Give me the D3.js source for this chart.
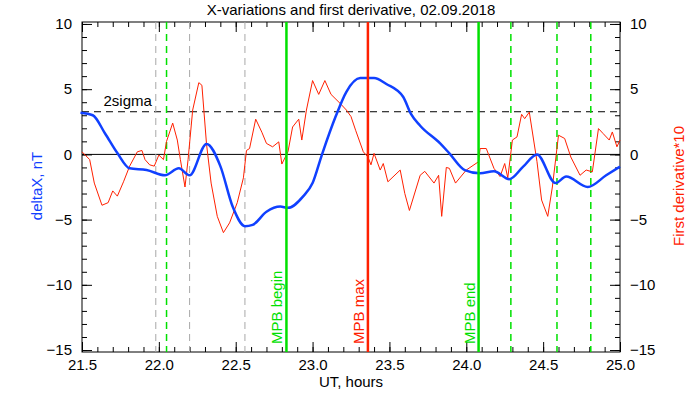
<!DOCTYPE html>
<html><head><meta charset="utf-8">
<script src="https://cdn.jsdelivr.net/npm/d3@7"></script>
<style>body{margin:0;background:#fff}text{font-family:"Liberation Sans",Arial,sans-serif}</style>
</head><body>
<script>
// blue: deltaX, nT
var blueT = [21.49,21.57,21.65,21.73,21.81,21.92,22.04,22.13,22.2,22.31,22.4,22.48,22.56,22.61,22.7,22.79,22.84,22.94,23.0,23.06,23.15,23.22,23.31,23.4,23.48,23.59,23.64,23.7,23.83,23.89,23.99,24.09,24.18,24.28,24.37,24.46,24.58,24.65,24.79,24.91,25.0];
var blueV = [3.2,3.0,1.6,0.1,-1.07,-1.2,-1.6,-1.07,-1.6,0.8,-0.9,-4.0,-5.5,-5.4,-4.4,-4.0,-4.1,-3.2,-2.2,-0.05,2.9,4.8,5.85,5.86,5.4,4.4,3.1,2.2,0.84,0.08,-1.2,-1.45,-1.3,-1.9,-0.94,0,-2.2,-1.7,-2.5,-1.6,-0.94];
// red: first derivative * 10
var redT = [21.5,21.55,21.58,21.63,21.67,21.7,21.73,21.77,21.81,21.86,21.89,21.91,21.94,21.97,22.0,22.03,22.05,22.09,22.12,22.14,22.17,22.19,22.22,22.26,22.28,22.31,22.34,22.38,22.42,22.46,22.51,22.55,22.57,22.59,22.63,22.67,22.7,22.74,22.78,22.8,22.84,22.87,22.91,22.93,22.96,23.0,23.04,23.08,23.12,23.18,23.22,23.25,23.28,23.33,23.36,23.38,23.4,23.44,23.46,23.49,23.57,23.6,23.63,23.7,23.73,23.79,23.82,23.84,23.87,23.89,23.93,24.0,24.08,24.09,24.13,24.18,24.22,24.25,24.27,24.3,24.33,24.36,24.38,24.41,24.46,24.49,24.53,24.56,24.6,24.64,24.68,24.74,24.78,24.82,24.86,24.89,24.93,24.95,24.98,25.0];
var redV = [0.2,-0.4,-2.2,-3.9,-3.7,-2.8,-3.2,-2.1,-0.9,0.2,0.3,-0.4,-0.8,-0.9,-0.05,-0.4,1.0,2.4,1.1,-0.4,-2.5,-0.4,3.4,5.5,5.3,0.8,-2.2,-4.75,-6.0,-5.25,-3.7,-1.8,0.3,0.45,2.7,1.7,0.84,0.58,0.96,-0.74,0.2,2.1,2.7,1.1,3.4,5.66,4.6,5.66,4.6,3.9,3.4,2.9,1.85,0.2,-0.2,-0.8,0.08,-1.2,-0.7,-2.1,-1.2,-3.0,-4.3,-1.6,-1.3,-2.2,-1.6,-4.75,-1.0,-1.07,-2.2,-1.2,-0.56,0.45,0.45,-1.07,-1.7,-0.7,-1.8,1.1,1.34,3.07,2.74,3.24,-0.56,-3.5,-4.75,-2.5,1.47,1.22,-0.2,-1.6,-1.2,-1.34,1.98,1.6,1.1,1.72,0.58,1.1];
var grayDashed = [21.98,22.2,22.56];
var greenDashed = [22.05,24.29,24.59,24.81];
var events = [{t:22.83,label:"MPB begin",c:"#00e000"},{t:23.36,label:"MPB max",c:"#ff2000"},{t:24.08,label:"MPB end",c:"#00e000"}];
var sigma2 = 3.27;
var yTicks = [-15,-10,-5,0,5,10];
var xTicks = [21.5,22.0,22.5,23.0,23.5,24.0,24.5,25.0];

var W=700,H=400,L=82,R=620,T=22,B=352;
var svg = d3.select("body").append("svg").attr("width",W).attr("height",H);
var x = d3.scaleLinear().domain([21.5,25]).range([L,R]);
var y = d3.scaleLinear().domain([-15.15,10.15]).range([B,T]);

svg.append("rect").attr("x",L).attr("y",T).attr("width",R-L).attr("height",B-T).attr("fill","none").attr("stroke","#000");

// axes
svg.append("g").attr("transform","translate("+L+",0)").call(d3.axisLeft(y).tickValues(d3.range(-15,11,1)).tickSize(-5).tickFormat(""));
svg.append("g").attr("transform","translate("+L+",0)").call(d3.axisLeft(y).tickValues(yTicks).tickSize(-10).tickPadding(10).tickFormat(d3.format("d")));
svg.append("g").attr("transform","translate("+R+",0)").call(d3.axisRight(y).tickValues(d3.range(-15,11,1)).tickSize(-5).tickFormat(""));
svg.append("g").attr("transform","translate("+R+",0)").call(d3.axisRight(y).tickValues(yTicks).tickSize(-10).tickPadding(10).tickFormat(d3.format("d")));
svg.append("g").attr("transform","translate(0,"+B+")").call(d3.axisBottom(x).tickValues(d3.range(21.5,25.01,0.1)).tickSize(-5).tickFormat(""));
svg.append("g").attr("transform","translate(0,"+B+")").call(d3.axisBottom(x).tickValues(xTicks).tickSize(-10).tickPadding(7).tickFormat(d3.format(".1f")));
svg.append("g").attr("transform","translate(0,"+T+")").call(d3.axisTop(x).tickValues(d3.range(21.5,25.01,0.1)).tickSize(-5).tickFormat(""));
svg.append("g").attr("transform","translate(0,"+T+")").call(d3.axisTop(x).tickValues(xTicks).tickSize(-10).tickFormat(""));
svg.selectAll(".domain").remove();
svg.selectAll(".tick line").attr("stroke","#000");
svg.selectAll(".tick text").attr("font-size",15).attr("fill","#000");

// reference lines
svg.append("line").attr("x1",L).attr("x2",R).attr("y1",y(0)).attr("y2",y(0)).attr("stroke","#000");
svg.append("line").attr("x1",L).attr("x2",R).attr("y1",y(sigma2)).attr("y2",y(sigma2)).attr("stroke","#000").attr("stroke-dasharray","7,5");
svg.append("text").attr("x",x(21.64)).attr("y",y(sigma2)-6).attr("font-size",15).text("2sigma");

svg.selectAll(".gd").data(grayDashed).enter().append("line")
  .attr("x1",d=>x(d)).attr("x2",d=>x(d)).attr("y1",T).attr("y2",B)
  .attr("stroke","#a8a8a8").attr("stroke-dasharray","7,5");
svg.selectAll(".grd").data(greenDashed).enter().append("line")
  .attr("x1",d=>x(d)).attr("x2",d=>x(d)).attr("y1",T).attr("y2",B)
  .attr("stroke","#00e000").attr("stroke-width",1.5).attr("stroke-dasharray","7,5");

var line = d3.line().x(d=>x(d[0])).y(d=>y(d[1]));
svg.append("path").attr("d",line(d3.zip(redT,redV))).attr("fill","none").attr("stroke","#ff2000").attr("stroke-width",1);
svg.append("path").attr("d",d3.line().x(d=>x(d[0])).y(d=>y(d[1])).curve(d3.curveMonotoneX)(d3.zip(blueT,blueV))).attr("fill","none").attr("stroke","#1040ff").attr("stroke-width",2.5).attr("stroke-linejoin","round");

events.forEach(function(e){
  svg.append("line").attr("x1",x(e.t)).attr("x2",x(e.t)).attr("y1",T).attr("y2",B).attr("stroke",e.c).attr("stroke-width",2.5);
  svg.append("text").attr("transform","translate("+(x(e.t)-4)+","+(B-8)+") rotate(-90)")
    .attr("font-size",15).attr("fill",e.c).text(e.label);
});

svg.append("text").attr("x",(L+R)/2).attr("y",15).attr("text-anchor","middle").attr("font-size",15).text("X-variations and first derivative, 02.09.2018");
svg.append("text").attr("x",(L+R)/2).attr("y",387).attr("text-anchor","middle").attr("font-size",15).text("UT, hours");
svg.append("text").attr("transform","translate(42,186) rotate(-90)").attr("text-anchor","middle").attr("font-size",15).attr("fill","#1040ff").text("deltaX, nT");
svg.append("text").attr("transform","translate(684,186) rotate(-90)").attr("text-anchor","middle").attr("font-size",15).attr("fill","#ff2000").text("First derivative*10");
</script>
</body></html>
